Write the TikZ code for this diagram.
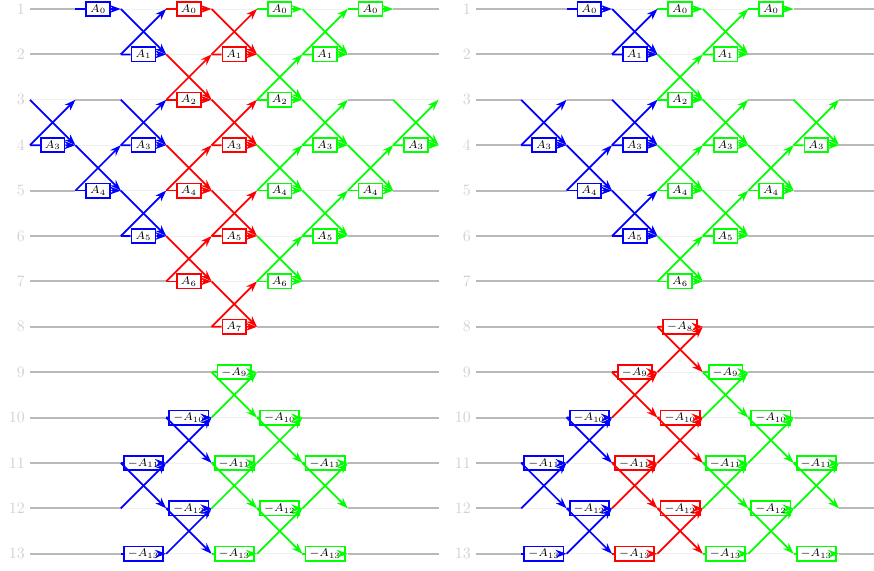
\documentclass[tikz,border=0pt]{standalone}
\usepackage{tikz}
\usetikzlibrary{arrows.meta,calc}

% horizontal weighted edge: panel, colour, row, interval, label
\newcommand{\harr}[5]{%
  \pgfmathtruncatemacro{\nxt}{#4+1}
  \node[lbl,draw=#2] (#1#3-#4b) at ($(#1#3-#4)!.5!(#1#3-\nxt)$) {$#5$};
  \draw[wire,color=#2] (#1#3-#4) -- (#1#3-#4b);
  \draw[wire,color=#2,->] (#1#3-#4b) -- (#1#3-\nxt);
}
% the two diagonals: panel, colour, upper row, interval
\newcommand{\xarr}[4]{%
  \pgfmathtruncatemacro{\lowrow}{#3+1}
  \pgfmathtruncatemacro{\nxt}{#4+1}
  \draw[wire,color=#2,->] (#1#3-#4) -- (#1\lowrow-\nxt);
  \draw[wire,color=#2,->] (#1\lowrow-#4) -- (#1#3-\nxt);
}
\newcommand{\xup}[4]{\pgfmathtruncatemacro{\lbrow}{#3+1}\harr{#1}{#2}{\lbrow}{#4}{A_{#3}}\xarr{#1}{#2}{#3}{#4}}
\newcommand{\xdn}[4]{\harr{#1}{#2}{#3}{#4}{-A_{#3}}\xarr{#1}{#2}{#3}{#4}}

\begin{document}
\begin{tikzpicture}[
  >={Stealth[length=7pt,width=5pt]},
  wire/.style={line width=1.1pt},
  lbl/.style={draw,fill=white,line width=1.1pt,inner xsep=2.5pt,inner ysep=1pt,minimum height=9pt,font=\scriptsize},
  idle/.style={gray!55,line width=1.2pt},
  faint/.style={gray!12,line width=0.5pt},
  rowno/.style={anchor=east,text=gray!35,inner sep=1pt}
]
\useasboundingbox (-0.661,0.198) rectangle (18.59,-12.379);
% grid points of both panels
\foreach \rw in {1,...,13}
  \foreach \cl in {0,...,9} {
    \coordinate (l\rw-\cl) at (\cl,1-\rw);
    \coordinate (r\rw-\cl) at (9.82+\cl,1-\rw);
  }
\foreach \rw in {1,...,13} {
  \node[rowno] (ln\rw) at ([xshift=-2pt]l\rw-0) {\rw};
  \node[rowno] (rn\rw) at ([xshift=-2pt]r\rw-0) {\rw};
  \draw[faint] (l\rw-0) -- (l\rw-9);
  \draw[faint] (r\rw-0) -- (r\rw-9);
}
% unused stretches
\foreach \p/\rw/\a/\b in {l/1/0/1, l/1/8/9, l/2/0/2, l/2/7/9, l/3/1/2, l/3/7/8,
    l/5/0/1, l/5/8/9, l/6/0/2, l/6/7/9, l/7/0/3, l/7/6/9, l/8/0/4, l/8/5/9,
    l/9/0/4, l/9/5/9, l/10/0/3, l/10/6/9, l/11/0/2, l/11/7/9, l/12/0/2, l/12/7/9,
    l/13/0/2, l/13/7/9,
    r/1/0/2, r/1/7/9, r/2/0/3, r/2/6/9, r/3/0/1, r/3/2/3, r/3/6/7, r/3/8/9,
    r/4/0/1, r/4/8/9, r/5/0/2, r/5/7/9, r/6/0/3, r/6/6/9, r/7/0/4, r/7/5/9,
    r/8/0/4, r/8/5/9, r/9/0/3, r/9/6/9, r/10/0/2, r/10/7/9, r/11/0/1, r/11/8/9,
    r/12/0/1, r/12/8/9, r/13/0/1, r/13/8/9}
  \draw[idle] (\p\rw-\a) -- (\p\rw-\b);

% left panel
\foreach \col/\iv in {blue/1, red/3, green/5, green/7} \harr{l}{\col}{1}{\iv}{A_0};
\foreach \col/\rw/\iv in {blue/3/0, blue/4/1, blue/1/2, blue/3/2, blue/5/2,
    red/2/3, red/4/3, red/6/3, red/1/4, red/3/4, red/5/4, red/7/4,
    green/2/5, green/4/5, green/6/5, green/1/6, green/3/6, green/5/6,
    green/4/7, green/3/8}
  \xup{l}{\col}{\rw}{\iv};
\foreach \col/\iv in {blue/2, green/4, green/6} \harr{l}{\col}{13}{\iv}{-A_{13}};
\foreach \col/\rw/\iv in {blue/11/2, blue/10/3, blue/12/3, green/9/4, green/11/4,
    green/10/5, green/12/5, green/11/6}
  \xdn{l}{\col}{\rw}{\iv};

% right panel
\foreach \col/\iv in {blue/2, green/4, green/6} \harr{r}{\col}{1}{\iv}{A_0};
\foreach \col/\rw/\iv in {blue/3/1, blue/4/2, blue/1/3, blue/3/3, blue/5/3,
    green/2/4, green/4/4, green/6/4, green/1/5, green/3/5, green/5/5,
    green/4/6, green/3/7}
  \xup{r}{\col}{\rw}{\iv};
\foreach \col/\iv in {blue/1, red/3, green/5, green/7} \harr{r}{\col}{13}{\iv}{-A_{13}};
\foreach \col/\rw/\iv in {blue/11/1, blue/10/2, blue/12/2, red/8/4, red/9/3,
    red/11/3, red/10/4, red/12/4, green/9/5, green/11/5, green/10/6,
    green/12/6, green/11/7}
  \xdn{r}{\col}{\rw}{\iv};
\end{tikzpicture}
\end{document}
